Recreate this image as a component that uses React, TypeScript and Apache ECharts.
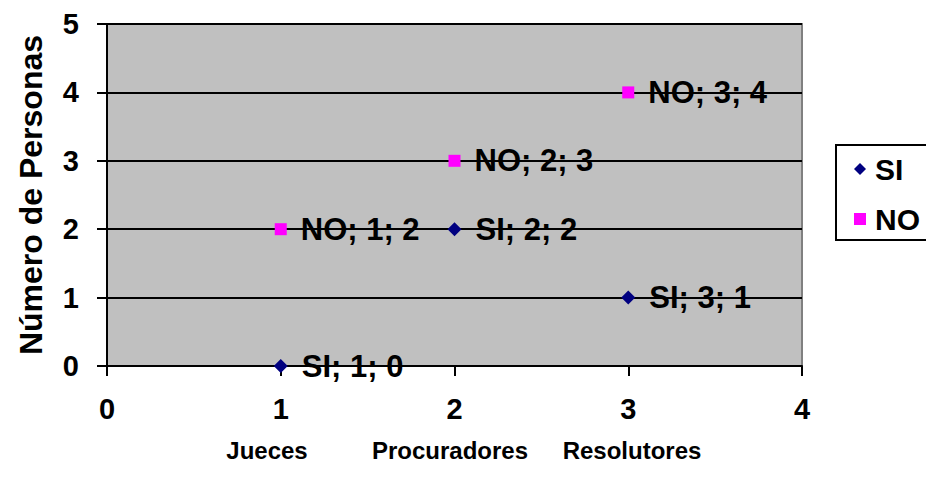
import React, { useEffect, useRef } from "react";
import * as echarts from "echarts";

const seriesNames = ["SI", "NO"];
const siX = [1, 2, 3];
const siY = [0, 2, 1];
const noX = [1, 2, 3];
const noY = [2, 3, 4];
const xTitleParts = ["Jueces", "Procuradores", "Resolutores"];
const yTitle = "Número de Personas";

const FONT = 'Arial, "Liberation Sans", sans-serif';

export default function App() {
  const ref = useRef<HTMLDivElement>(null);
  useEffect(() => {
    if (!ref.current) return;
    const chart = echarts.init(ref.current, undefined, { renderer: "svg" });
    const labelStyle = {
      show: true,
      position: "right",
      distance: 14,
      formatter: (p: any) => `${p.seriesName}; ${p.value[0]}; ${p.value[1]}`,
      color: "#000",
      opacity: 1,
      fontFamily: FONT,
      fontWeight: "bold",
      fontSize: 31,
    };
    const xTitleStyle = (t: string) => ({
      text: t,
      fill: "#000",
      font: `bold 24px ${FONT}`,
      align: "center",
      verticalAlign: "middle",
    });
    chart.setOption({
      animation: false,
      backgroundColor: "#fff",
      grid: {
        left: 107,
        top: 24,
        width: 695,
        height: 342,
        show: true,
        backgroundColor: "#C0C0C0",
        borderColor: "#808080",
        borderWidth: 2,
        containLabel: false,
      },
      xAxis: {
        type: "value",
        min: 0,
        max: 4,
        interval: 1,
        axisLine: { show: true, onZero: false, lineStyle: { color: "#000", width: 2 } },
        axisTick: { show: true, length: 10, lineStyle: { color: "#000", width: 2 } },
        splitLine: { show: false },
        axisLabel: {
          margin: 28,
          color: "#000",
          fontFamily: FONT,
          fontWeight: "bold",
          fontSize: 29,
        },
      },
      yAxis: {
        type: "value",
        min: 0,
        max: 5,
        interval: 1,
        name: yTitle,
        nameLocation: "middle",
        nameGap: 60,
        nameRotate: 90,
        nameTextStyle: {
          color: "#000",
          fontFamily: FONT,
          fontWeight: "bold",
          fontSize: 32,
        },
        axisLine: { show: true, onZero: false, lineStyle: { color: "#000", width: 2 } },
        axisTick: { show: true, length: 10, lineStyle: { color: "#000", width: 2 } },
        splitLine: { show: true, lineStyle: { color: "#000", width: 2 } },
        axisLabel: {
          margin: 28,
          color: "#000",
          fontFamily: FONT,
          fontWeight: "bold",
          fontSize: 29,
        },
      },
      legend: {
        orient: "vertical",
        left: 836,
        top: 145,
        backgroundColor: "#fff",
        borderColor: "#000",
        borderWidth: 2,
        padding: [9, 20, 6, 18],
        itemGap: 20,
        itemWidth: 12,
        itemHeight: 12,
        textStyle: {
          color: "#000",
          fontFamily: FONT,
          fontWeight: "bold",
          fontSize: 30,
          padding: [0, 0, 0, 4],
        },
        data: seriesNames,
      },
      graphic: [
        { type: "text", x: 267, y: 450, style: xTitleStyle(xTitleParts[0]) },
        { type: "text", x: 450, y: 450, style: xTitleStyle(xTitleParts[1]) },
        { type: "text", x: 632, y: 450, style: xTitleStyle(xTitleParts[2]) },
      ],
      series: [
        {
          name: seriesNames[0],
          type: "scatter",
          symbol: "diamond",
          symbolSize: 14,
          itemStyle: { color: "#000080", opacity: 1 },
          label: labelStyle,
          z: 5,
          data: siX.map((x, i) => [x, siY[i]]),
        },
        {
          name: seriesNames[1],
          type: "scatter",
          symbol: "rect",
          symbolSize: 12,
          itemStyle: { color: "#FF00FF", opacity: 1 },
          label: labelStyle,
          z: 5,
          data: noX.map((x, i) => [x, noY[i]]),
        },
      ],
    });
    return () => chart.dispose();
  }, []);
  return (
    <div
      ref={ref}
      style={{ position: "fixed", left: 0, top: 0, width: 926, height: 487 }}
    />
  );
}
